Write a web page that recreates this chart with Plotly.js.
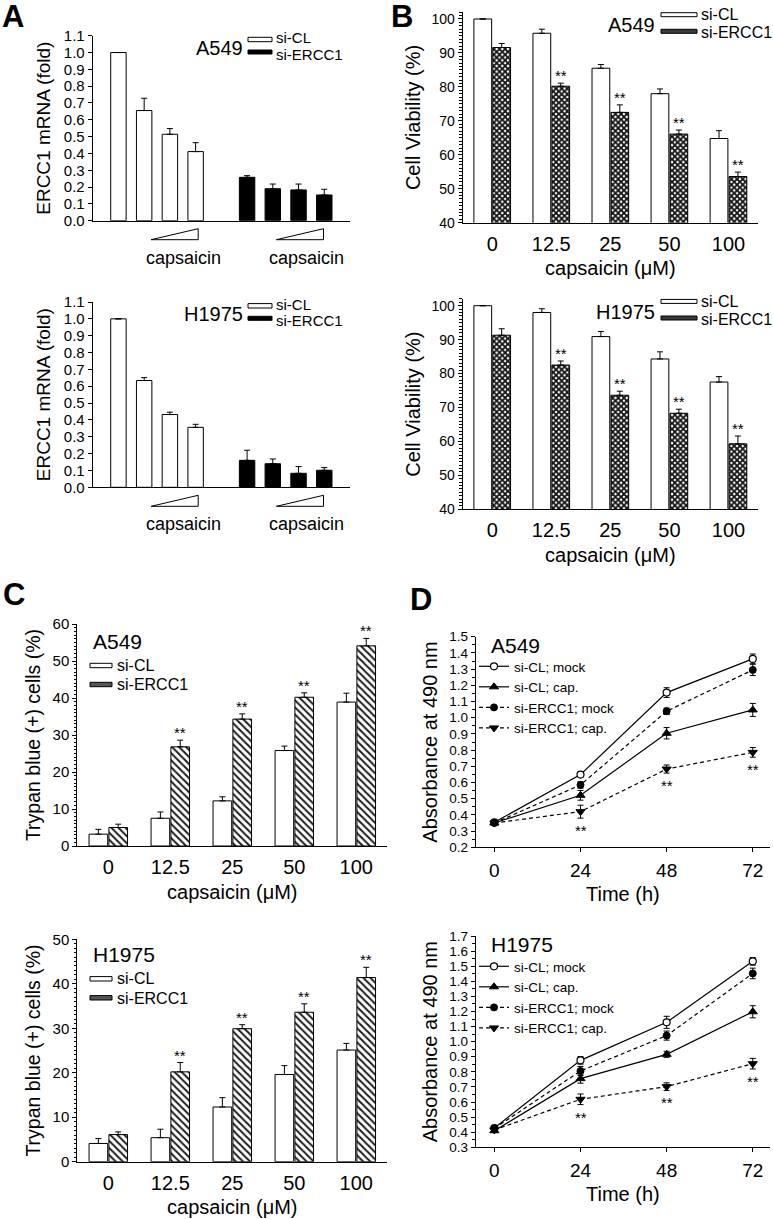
<!DOCTYPE html>
<html><head><meta charset="utf-8">
<script src="https://cdn.plot.ly/plotly-3.0.1.min.js"></script>
<style>html,body{margin:0;padding:0;background:#fff}#chart{width:773px;height:1219px}</style>
</head><body><div id="chart"></div>
<script>
// ---------- Panel A: ERCC1 mRNA (fold) ----------
const aSteps = [0, 1, 2, 3];              // increasing capsaicin (no labels)
const aA549_siCL = [1.0, 0.655, 0.514, 0.411];
const aA549_siCL_err = [0, 0.073, 0.034, 0.053];
const aA549_siERCC1 = [0.258, 0.19, 0.183, 0.153];
const aA549_siERCC1_err = [0.010, 0.028, 0.035, 0.034];
const aH1975_siCL = [1.0, 0.634, 0.432, 0.356];
const aH1975_siCL_err = [0, 0.017, 0.014, 0.018];
const aH1975_siERCC1 = [0.16, 0.14, 0.083, 0.101];
const aH1975_siERCC1_err = [0.06, 0.028, 0.04, 0.016];

// ---------- Panels B & C: capsaicin doses ----------
const doseLabels = ['0', '12.5', '25', '50', '100'];
const bA549_siCL = [100, 95.8, 85.5, 78.0, 64.8];
const bA549_siCL_err = [0, 1.2, 1.1, 1.4, 2.3];
const bA549_siERCC1 = [91.6, 80.2, 72.5, 66.1, 53.6];
const bA549_siERCC1_err = [1.2, 0.9, 2.2, 1.2, 1.3];
const bH1975_siCL = [100, 98.0, 90.9, 84.3, 77.5];
const bH1975_siCL_err = [0, 1.1, 1.5, 2.1, 1.6];
const bH1975_siERCC1 = [91.3, 82.5, 73.6, 68.3, 59.3];
const bH1975_siERCC1_err = [1.9, 1.2, 1.2, 1.2, 2.3];
const barSig = ['', '**', '**', '**', '**'];

const cA549_siCL = [3.2, 7.5, 12.2, 25.8, 38.9];
const cA549_siCL_err = [1.3, 1.7, 1.1, 1.2, 2.4];
const cA549_siERCC1 = [5.0, 26.8, 34.3, 40.2, 54.1];
const cA549_siERCC1_err = [0.9, 1.8, 1.4, 1.2, 2.0];
const cH1975_siCL = [4.1, 5.4, 12.3, 19.6, 25.1];
const cH1975_siCL_err = [1.1, 1.9, 2.1, 2.0, 1.5];
const cH1975_siERCC1 = [6.1, 20.2, 29.9, 33.6, 41.4];
const cH1975_siERCC1_err = [0.6, 2.1, 0.9, 1.9, 2.3];

// ---------- Panel D: absorbance at 490 nm ----------
const timeH = [0, 24, 48, 72];
const dA549_CLmock = [0.354, 0.649, 1.155, 1.363];
const dA549_CLmock_err = [0.01, 0.012, 0.03, 0.03];
const dA549_CLcap = [0.35, 0.521, 0.904, 1.048];
const dA549_CLcap_err = [0.01, 0.03, 0.035, 0.04];
const dA549_ERmock = [0.35, 0.585, 1.04, 1.295];
const dA549_ERmock_err = [0.01, 0.02, 0.02, 0.035];
const dA549_ERcap = [0.35, 0.42, 0.683, 0.786];
const dA549_ERcap_err = [0.01, 0.04, 0.025, 0.03];
const dH1975_CLmock = [0.428, 0.876, 1.128, 1.532];
const dH1975_CLmock_err = [0.01, 0.025, 0.04, 0.025];
const dH1975_CLcap = [0.41, 0.755, 0.916, 1.198];
const dH1975_CLcap_err = [0.01, 0.03, 0.02, 0.04];
const dH1975_ERmock = [0.425, 0.806, 1.04, 1.452];
const dH1975_ERmock_err = [0.01, 0.03, 0.03, 0.035];
const dH1975_ERcap = [0.415, 0.618, 0.702, 0.854];
const dH1975_ERcap_err = [0.01, 0.035, 0.025, 0.035];
const lineSig = ['', '**', '**', '**'];
const dSeriesNames = ['si-CL; mock', 'si-CL; cap.', 'si-ERCC1; mock', 'si-ERCC1; cap.'];

// ---------- helpers ----------
const W = 773, H = 1219;
const FONT = 'Arial, "Liberation Sans", Helvetica, sans-serif';
const px = x => x / W, py = y => 1 - y / H;
const upErr = arr => ({type: 'data', array: arr, arrayminus: arr.map(() => 0), symmetric: false,
  color: 'black', thickness: 1, width: 3});
const symErr = arr => ({type: 'data', array: arr, color: 'black', thickness: 1, width: 3});

const traces = [];
const shapes = [];
const annotations = [];

function addText(text, x, y, size, opts) {
  annotations.push(Object.assign({text: text, xref: 'paper', yref: 'paper', x: px(x), y: py(y),
    showarrow: false, xanchor: 'left', yanchor: 'middle', font: {size: size, color: 'black', family: FONT}}, opts || {}));
}
function addBox(x0, y0, x1, y1, fill) {
  shapes.push({type: 'rect', xref: 'paper', yref: 'paper', x0: px(x0), x1: px(x1), y0: py(y1), y1: py(y0),
    fillcolor: fill, line: {color: 'black', width: 1}});
}

// ---------- Panel A traces ----------
function panelA(ax, clVals, clErr, erVals, erErr, axisTop, axisBottom, cell) {
  const xa = 'x' + (ax === 1 ? '' : ax), ya = 'y' + (ax === 1 ? '' : ax);
  traces.push({type: 'bar', x: aSteps, y: clVals, xaxis: xa, yaxis: ya, width: 0.6, offsetgroup: 'A' + ax,
    marker: {color: 'white', line: {color: 'black', width: 1}}, error_y: upErr(clErr), showlegend: false, name: 'si-CL'});
  traces.push({type: 'bar', x: aSteps.map(s => s + 5), y: erVals, xaxis: xa, yaxis: ya, width: 0.6, offsetgroup: 'A' + ax,
    marker: {color: 'black', line: {color: 'black', width: 1}}, error_y: upErr(erErr), showlegend: false, name: 'si-ERCC1'});
  // capsaicin wedges and labels
  [[1.27, 3.1, 2.52], [6.14, 7.97, 7.3]].forEach(w => {
    const yb = py(axisBottom + 19), yt = py(axisBottom + 8);
    shapes.push({type: 'path', xref: xa, yref: 'paper',
      path: `M ${w[0]},${yb} L ${w[1]},${yb} L ${w[1]},${yt} Z`, line: {color: 'black', width: 1}, fillcolor: 'white'});
    annotations.push({text: 'capsaicin', xref: xa, yref: 'paper', x: w[2], y: py(axisBottom + 37),
      showarrow: false, xanchor: 'center', yanchor: 'middle', font: {size: 18, family: FONT, color: 'black'}});
  });
  addText(cell, 245, axisTop + 12, 20, {xanchor: 'right'});
  addBox(248, axisTop + 1.6, 272, axisTop + 6, 'white');
  addBox(248, axisTop + 14.3, 272, axisTop + 18.3, 'black');
  addText('si-CL', 274, axisTop + 2, 15);
  addText('si-ERCC1', 274, axisTop + 18.5, 15);
}
panelA(1, aA549_siCL, aA549_siCL_err, aA549_siERCC1, aA549_siERCC1_err, 35.7, 220.7, 'A549');
panelA(2, aH1975_siCL, aH1975_siCL_err, aH1975_siERCC1, aH1975_siERCC1_err, 302, 487.3, 'H1975');

// ---------- Panel B traces ----------
const bPattern = {shape: 'x', fgcolor: '#111', bgcolor: 'white', size: 4, solidity: 0.7};
function panelB(ax, clVals, clErr, erVals, erErr, y100, cell) {
  const xa = 'x' + ax, ya = 'y' + ax;
  traces.push({type: 'bar', x: doseLabels, y: clVals, xaxis: xa, yaxis: ya, name: 'si-CL',
    marker: {color: 'white', line: {color: 'black', width: 1}}, error_y: upErr(clErr), showlegend: false});
  traces.push({type: 'bar', x: doseLabels, y: erVals, xaxis: xa, yaxis: ya, name: 'si-ERCC1',
    marker: {color: 'white', pattern: bPattern, line: {color: 'black', width: 1}}, error_y: upErr(erErr), showlegend: false});
  barSig.forEach((s, i) => {
    if (!s) return;
    annotations.push({text: s, xref: xa, yref: ya, x: i + 0.16, y: erVals[i] + erErr[i], yshift: -3,
      showarrow: false, xanchor: 'center', yanchor: 'bottom', font: {size: 15, family: FONT, color: 'black'}});
  });
  addText(cell, 657, y100 + 6, 20, {xanchor: 'right'});
  addBox(661, y100 - 6.3, 697, y100 - 2.3, 'white');
  addBox(661, y100 + 10.3, 697, y100 + 14.3, '#3a3a3a');
  addText('si-CL', 699, y100 - 4.5, 16);
  addText('si-ERCC1', 699, y100 + 13.5, 16);
}
panelB(3, bA549_siCL, bA549_siCL_err, bA549_siERCC1, bA549_siERCC1_err, 19, 'A549');
panelB(4, bH1975_siCL, bH1975_siCL_err, bH1975_siERCC1, bH1975_siERCC1_err, 305.7, 'H1975');

// ---------- Panel C traces ----------
const cPattern = {shape: '\\', fgcolor: '#1a1a1a', size: 5, solidity: 0.4};
function panelC(ax, clVals, clErr, erVals, erErr, yTop, cell) {
  const xa = 'x' + ax, ya = 'y' + ax;
  traces.push({type: 'bar', x: doseLabels, y: clVals, xaxis: xa, yaxis: ya, name: 'si-CL',
    marker: {color: 'white', line: {color: 'black', width: 1}}, error_y: upErr(clErr), showlegend: false});
  traces.push({type: 'bar', x: doseLabels, y: erVals, xaxis: xa, yaxis: ya, name: 'si-ERCC1',
    marker: {color: '#a8a8a8', pattern: cPattern, line: {color: 'black', width: 1}}, error_y: upErr(erErr), showlegend: false});
  barSig.forEach((s, i) => {
    if (!s) return;
    annotations.push({text: s, xref: xa, yref: ya, x: i + 0.16, y: erVals[i] + erErr[i], yshift: -3,
      showarrow: false, xanchor: 'center', yanchor: 'bottom', font: {size: 15, family: FONT, color: 'black'}});
  });
  addText(cell, 91, yTop + 17.7, 21);
  addBox(90, yTop + 39.3, 112, yTop + 43.7, 'white');
  addBox(90, yTop + 58.3, 112, yTop + 62.7, '#555');
  addText('si-CL', 115, yTop + 41.2, 16);
  addText('si-ERCC1', 115, yTop + 60.8, 16);
}
panelC(5, cA549_siCL, cA549_siCL_err, cA549_siERCC1, cA549_siERCC1_err, 624, 'A549');
panelC(6, cH1975_siCL, cH1975_siCL_err, cH1975_siERCC1, cH1975_siERCC1_err, 937.3, 'H1975');

// ---------- Panel D traces ----------
const dMarkers = [
  {symbol: 'circle', color: 'white', line: {color: 'black', width: 1.2}, size: 7},
  {symbol: 'triangle-up', color: 'black', line: {color: 'black', width: 1}, size: 8},
  {symbol: 'circle', color: 'black', line: {color: 'black', width: 1}, size: 7},
  {symbol: 'triangle-down', color: 'black', line: {color: 'black', width: 1}, size: 8}
];
const dDash = ['solid', 'solid', '4px,3px', '4px,3px'];
function panelD(ax, vals, errs, legendId, cell, yTop) {
  const xa = 'x' + ax, ya = 'y' + ax;
  vals.forEach((v, k) => {
    traces.push({type: 'scatter', mode: 'lines+markers', x: timeH, y: v, xaxis: xa, yaxis: ya,
      name: dSeriesNames[k], legend: legendId, line: {color: 'black', width: 1.2, dash: dDash[k]},
      marker: dMarkers[k], error_y: symErr(errs[k]), cliponaxis: false});
  });
  const lowV = vals[3], lowE = errs[3];
  lineSig.forEach((s, i) => {
    if (!s) return;
    annotations.push({text: s, xref: xa, yref: ya, x: timeH[i], y: lowV[i] - lowE[i], yshift: -2,
      showarrow: false, xanchor: 'center', yanchor: 'top', font: {size: 15, family: FONT, color: 'black'}});
  });
  addText(cell, 489, yTop + 8.5, 21);
}
panelD(7, [dA549_CLmock, dA549_CLcap, dA549_ERmock, dA549_ERcap],
  [dA549_CLmock_err, dA549_CLcap_err, dA549_ERmock_err, dA549_ERcap_err], 'legend', 'A549', 636.7);
panelD(8, [dH1975_CLmock, dH1975_CLcap, dH1975_ERmock, dH1975_ERcap],
  [dH1975_CLmock_err, dH1975_CLcap_err, dH1975_ERmock_err, dH1975_ERcap_err], 'legend2', 'H1975', 936);

// ---------- panel letters ----------
addText('A', 13, 16, 31, {xanchor: 'center', font: {size: 31, family: FONT, color: 'black', weight: 'bold'}});
addText('B', 402, 16, 31, {xanchor: 'center', font: {size: 31, family: FONT, color: 'black', weight: 'bold'}});
addText('C', 14, 594, 31, {xanchor: 'center', font: {size: 31, family: FONT, color: 'black', weight: 'bold'}});
addText('D', 421, 600, 31, {xanchor: 'center', font: {size: 31, family: FONT, color: 'black', weight: 'bold'}});

// ---------- axes ----------
const baseAx = {showline: true, linecolor: 'black', linewidth: 1, showgrid: false, zeroline: false,
  ticks: 'outside', tickcolor: 'black', ticklen: 4, tickwidth: 1, fixedrange: true, color: 'black'};
function xAxis(x0, x1, anchor, extra) {
  return Object.assign({}, baseAx, {domain: [px(x0), px(x1)], anchor: anchor}, extra);
}
function yAxis(y0, y1, anchor, extra) {
  return Object.assign({}, baseAx, {domain: [py(y1), py(y0)], anchor: anchor}, extra);
}
const aY = () => ({range: [0, 1.1], dtick: 0.1, tick0: 0, tickformat: '.1f', tickfont: {size: 15},
  title: {text: 'ERCC1 mRNA (fold)', font: {size: 19}, standoff: 8}});
const aX = {range: [-1, 9], showticklabels: false, ticks: ''};
const catX = {type: 'category', range: [-0.5, 4.5], ticks: '', tickfont: {size: 20}, ticklabelstandoff: 3,
  title: {text: 'capsaicin (\u03bcM)', font: {size: 20}, standoff: 7}};
const bY = {range: [40, 102], dtick: 10, tick0: 0, tickfont: {size: 14},
  minor: {dtick: 1, ticks: 'outside', ticklen: 2.5, tickcolor: 'black', showgrid: false},
  title: {text: 'Cell Viability (%)', font: {size: 20}, standoff: 5}};
const cY = top => ({range: [0, top], dtick: 10, tick0: 0, tickfont: {size: 15},
  minor: {dtick: 1, ticks: 'outside', ticklen: 2.5, tickcolor: 'black', showgrid: false},
  title: {text: 'Trypan blue (+) cells (%)', font: {size: 19.5}, standoff: 6}});
const dX = {range: [-5.2, 76.8], dtick: 24, tick0: 0, tickfont: {size: 19}, ticklabelstandoff: 2,
  title: {text: 'Time (h)', font: {size: 20}, standoff: 6}};
const dY = (lo, hi) => ({range: [lo, hi], dtick: 0.1, tick0: 0, tickformat: '.1f', tickfont: {size: 13.5},
  minor: {dtick: 0.05, ticks: 'outside', ticklen: 2.5, tickcolor: 'black', showgrid: false},
  title: {text: 'Absorbance at 490 nm', font: {size: 20}, standoff: 6}});

const legendBase = {bgcolor: 'rgba(0,0,0,0)', font: {size: 13.5, family: FONT, color: 'black'},
  xanchor: 'left', yanchor: 'top', tracegroupgap: 0, itemwidth: 30, itemclick: false, itemdoubleclick: false};

const layout = {
  width: W, height: H, autosize: false,
  margin: {l: 0, r: 0, t: 0, b: 0},
  paper_bgcolor: 'white', plot_bgcolor: 'rgba(0,0,0,0)',
  font: {family: FONT, color: 'black', size: 14},
  barmode: 'group', bargap: 0.36, bargroupgap: 0.06,
  xaxis: xAxis(92.7, 350, 'y', aX),
  yaxis: yAxis(35.7, 220.7, 'x', aY()),
  xaxis2: xAxis(92.7, 350, 'y2', aX),
  yaxis2: yAxis(302, 487.3, 'x2', aY()),
  xaxis3: xAxis(462.7, 758, 'y3', catX),
  yaxis3: yAxis(12.2, 222.7, 'x3', bY),
  xaxis4: xAxis(462.7, 758, 'y4', catX),
  yaxis4: yAxis(298.9, 509.3, 'x4', bY),
  xaxis5: xAxis(77.3, 387.3, 'y5', catX),
  yaxis5: yAxis(624, 846, 'x5', cY(60)),
  xaxis6: xAxis(77.3, 387.3, 'y6', catX),
  yaxis6: yAxis(939.3, 1161.7, 'x6', cY(50)),
  xaxis7: xAxis(475.7, 770, 'y7', dX),
  yaxis7: yAxis(636.7, 847.3, 'x7', dY(0.2, 1.5)),
  xaxis8: xAxis(475.7, 770, 'y8', dX),
  yaxis8: yAxis(936, 1147.3, 'x8', dY(0.3, 1.7)),
  legend: Object.assign({}, legendBase, {x: px(474), y: py(651)}),
  legend2: Object.assign({}, legendBase, {x: px(474), y: py(951)}),
  shapes: shapes,
  annotations: annotations
};

Plotly.newPlot('chart', traces, layout, {staticPlot: true, displayModeBar: false});
</script>
</body></html>
